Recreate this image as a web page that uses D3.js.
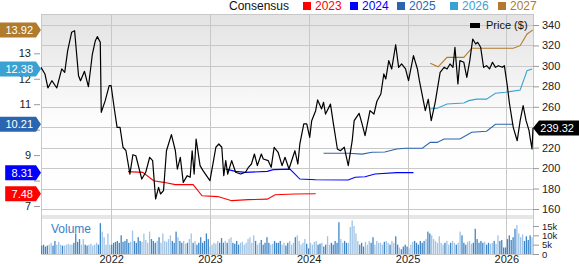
<!DOCTYPE html>
<html>
<head>
<meta charset="utf-8">
<script src="https://cdn.jsdelivr.net/npm/d3@7"></script>
<style>
  body { margin: 0; background: #fff; }
  svg { display: block; font-family: "Liberation Sans", Arial, sans-serif; }
</style>
</head>
<body>
<div id="chart"></div>
<script>
// price, [decimal year, $]
const priceData = [
  [2021.29,298.6],[2021.33,292.1],[2021.36,278.4],[2021.40,285.5],[2021.45,278.4],[2021.50,297.0],
  [2021.53,293.7],[2021.56,314.9],[2021.60,332.9],[2021.63,334.4],[2021.67,290.4],[2021.69,285.5],
  [2021.73,294.7],[2021.77,279.6],[2021.81,311.6],[2021.84,324.6],[2021.86,328.6],[2021.89,323.1],
  [2021.90,254.6],[2021.94,266.0],[2021.98,280.6],[2022.00,280.6],[2022.03,259.5],[2022.06,239.9],
  [2022.09,239.9],[2022.12,220.4],[2022.15,217.0],[2022.19,194.2],[2022.22,213.1],[2022.25,212.1],
  [2022.31,189.3],[2022.35,195.9],[2022.39,210.6],[2022.42,207.3],[2022.45,169.8],[2022.48,181.2],
  [2022.50,174.7],[2022.53,177.9],[2022.56,217.0],[2022.61,232.7],[2022.65,217.0],[2022.67,199.1],
  [2022.70,210.6],[2022.73,186.1],[2022.77,192.6],[2022.80,191.0],[2022.82,217.0],[2022.84,194.2],
  [2022.86,228.5],[2022.90,202.4],[2022.93,197.5],[2023.00,187.7],[2023.03,204.0],[2023.06,220.4],
  [2023.09,223.6],[2023.12,220.4],[2023.14,192.6],[2023.16,207.3],[2023.18,194.2],[2023.22,207.3],
  [2023.26,195.9],[2023.31,194.2],[2023.36,195.9],[2023.39,200.8],[2023.42,204.0],[2023.45,213.8],
  [2023.48,202.4],[2023.52,213.8],[2023.54,208.9],[2023.59,207.3],[2023.62,200.8],[2023.65,220.4],
  [2023.69,215.5],[2023.73,202.4],[2023.76,210.6],[2023.80,199.1],[2023.86,217.0],[2023.89,204.0],
  [2023.91,223.6],[2023.95,243.2],[2023.98,243.2],[2024.01,230.1],[2024.03,246.4],[2024.07,256.2],
  [2024.09,266.7],[2024.13,257.9],[2024.15,264.4],[2024.17,252.9],[2024.22,262.6],[2024.25,243.2],
  [2024.29,218.7],[2024.32,217.0],[2024.36,220.4],[2024.40,202.4],[2024.44,226.8],[2024.46,246.4],
  [2024.51,253.6],[2024.54,243.2],[2024.57,231.7],[2024.62,256.2],[2024.66,252.9],[2024.69,265.4],
  [2024.73,272.5],[2024.76,292.1],[2024.78,287.2],[2024.81,305.1],[2024.84,297.0],[2024.88,320.7],
  [2024.91,298.6],[2024.94,301.9],[2024.98,297.0],[2025.01,285.5],[2025.06,310.0],[2025.10,297.0],
  [2025.12,285.5],[2025.16,266.0],[2025.18,256.2],[2025.21,267.4],[2025.24,246.4],[2025.28,264.4],
  [2025.33,293.7],[2025.37,298.6],[2025.40,297.0],[2025.43,301.9],[2025.46,298.6],[2025.48,318.2],
  [2025.51,282.3],[2025.53,305.1],[2025.57,303.5],[2025.60,288.8],[2025.63,305.1],[2025.66,326.3],
  [2025.69,321.4],[2025.71,323.1],[2025.74,318.2],[2025.77,298.6],[2025.80,300.2],[2025.83,297.0],
  [2025.86,303.5],[2025.89,298.6],[2025.92,300.2],[2025.96,298.6],[2025.98,300.2],[2026.01,280.6],
  [2026.03,264.4],[2026.07,239.9],[2026.11,226.8],[2026.14,246.4],[2026.17,261.1],[2026.20,246.4],
  [2026.23,236.6],[2026.24,230.1],[2026.26,218.7],[2026.27,239.32]
]

// consensus EPS estimates, [decimal year, EPS]
const est2023 = [[2022.17,8.35],[2022.32,8.32],[2022.43,7.99],[2022.53,7.93],[2022.65,7.84],[2022.83,7.84],
  [2022.92,7.40],[2023.08,7.37],[2023.22,7.21],[2023.39,7.25],[2023.58,7.27],[2023.66,7.44],[2023.86,7.47],[2024.07,7.48]]
const est2024 = [[2023.16,8.45],[2023.26,8.36],[2023.36,8.32],[2023.58,8.36],[2023.64,8.43],[2023.81,8.45],
  [2023.91,8.06],[2024.07,8.03],[2024.40,8.02],[2024.47,8.13],[2024.57,8.15],[2024.67,8.26],[2024.89,8.31],[2025.06,8.31]]
const est2025 = [[2024.15,9.07],[2024.40,9.07],[2024.54,9.04],[2024.64,9.11],[2024.77,9.12],[2024.89,9.24],
  [2024.98,9.27],[2025.15,9.27],[2025.23,9.50],[2025.30,9.50],[2025.37,9.63],[2025.53,9.63],[2025.65,9.90],
  [2025.80,9.94],[2025.89,10.21],[2026.07,10.21]]
const est2026 = [[2025.23,10.81],[2025.30,10.84],[2025.40,11.01],[2025.57,11.05],[2025.62,11.14],[2025.70,11.20],
  [2025.80,11.20],[2025.89,11.43],[2025.99,11.47],[2026.14,11.56],[2026.21,12.32],[2026.26,12.38]]
const est2027 = [[2025.23,12.61],[2025.31,12.47],[2025.40,12.84],[2025.57,12.84],[2025.65,13.20],[2026.07,13.20],
  [2026.14,13.30],[2026.21,13.76],[2026.27,13.92]]

const estYears = ["2023", "2024", "2025", "2026", "2027"]
const estSeries = [est2023, est2024, est2025, est2026, est2027]
const estColors = ["#ff0000", "#0000ff", "#2a66b0", "#3aa2d2", "#b07b2d"]

// weekly volume (thousands), first week starts 2021.29
const volStart = 2021.29
const volumes = [
  4.5,5,4,4.5,5,6,4.5,7,5,6.5,5,4.5,4.5,5,5.5,5,5,6,11,6.5,8,5,8,5,4.5,5,5.5,4.5,5,6,5,16.5,12,9,5,11,5,
  5,6,6.5,7,6,10,6.5,7,8,6,6.5,12.5,7,6,9,7,6.5,11,7.5,6,12,8,7,6,7,9,6,11,7,6.5,8,10,7,6,12,9,7,6,7,5.5,6,8,11,6,7,5,6,9,6,7,11,8,
  4,5,6,5.5,7,6,8.5,6,7,6,8,9,6,5.5,7,5,6,6.5,5,6,8,9,6,10,7,5,6,7.5,5,6,9,6,5,5.5,7,6,6,7,5,6,4.5,6,7,5,6,9,10,7,5,6,8,5.5,
  3,6,5,6.5,7,5,5.5,6,4,5,9.5,5,6,5,7,6,17,8,6,7,6,6,14.5,18,15,11,7,5,6,4,6.5,5,7,6,9,5,7,6,6,5,6.5,7,6,5,7,6,9.5,5,3.5,2.5,4,5,
  4,3,5,6.5,7,6,5,7,6,7,8,12,11,10,8,7,6,9.5,6,5,6,7,5,6,7,6,5,6,12,10,6,5,6.5,7,5.5,6,13.5,8,6,7,6,6.5,5,6,5.5,6,7,5.5,10,7,7.5,3.5,
  3.5,8,10,7.5,9,13.5,15.5,11,9,10.5,7,9.5,7.5,10,9
]

const priceTicks = [160, 180, 200, 220, 240, 260, 280, 300, 320, 340]
const epsTicks = [7, 8, 9, 10, 11, 12, 13]
const volTicks = [0, 5, 10, 15]
const yearTicks = [2022, 2023, 2024, 2025, 2026]

const W = 579, H = 264
const plot = { left: 41, right: 533, top: 14, bottom: 210 }
const volPanel = { top: 219, bottom: 254 }

const svg = d3.select("#chart").append("svg")
  .attr("width", W).attr("height", H)

const x = d3.scaleLinear().domain([2021.29, 2026.27]).range([plot.left, plot.right])
const yPrice = d3.scaleLinear().domain([160, 340]).range([209, 25])
const yEps = d3.scaleLinear().domain([7, 13]).range([206, 53.3])
const yVol = d3.scaleLinear().domain([0, 15]).range([volPanel.bottom, 226])

// background gradient
const grad = svg.append("defs").append("linearGradient")
  .attr("id", "bg").attr("x1", 0).attr("y1", 0).attr("x2", 0).attr("y2", 1)
grad.append("stop").attr("offset", "0%").attr("stop-color", "#e3e3e3")
grad.append("stop").attr("offset", "55%").attr("stop-color", "#fdfdfd")
grad.append("stop").attr("offset", "100%").attr("stop-color", "#ffffff")

svg.append("rect")
  .attr("x", plot.left).attr("y", plot.top)
  .attr("width", plot.right - plot.left).attr("height", plot.bottom - plot.top)
  .attr("fill", "url(#bg)")

// separator band between price and volume panels
svg.append("rect")
  .attr("x", plot.left).attr("y", 215)
  .attr("width", plot.right - plot.left).attr("height", 4)
  .attr("fill", "#e6e6e6")

const grid = svg.append("g").attr("stroke", "#c8c8c8").attr("stroke-width", 1).attr("shape-rendering", "crispEdges")
priceTicks.forEach(t => {
  grid.append("line").attr("x1", plot.left).attr("x2", plot.right)
    .attr("y1", Math.round(yPrice(t)) + 0.5).attr("y2", Math.round(yPrice(t)) + 0.5)
})
grid.append("line").attr("x1", plot.left).attr("x2", plot.right).attr("y1", plot.top + 0.5).attr("y2", plot.top + 0.5)
yearTicks.forEach(t => {
  grid.append("line").attr("y1", plot.top).attr("y2", volPanel.bottom)
    .attr("x1", Math.round(x(t)) + 0.5).attr("x2", Math.round(x(t)) + 0.5)
})
grid.append("line").attr("y1", plot.top).attr("y2", volPanel.bottom).attr("x1", plot.left + 0.5).attr("x2", plot.left + 0.5)
grid.append("line").attr("y1", plot.top).attr("y2", volPanel.bottom).attr("x1", plot.right + 0.5).attr("x2", plot.right + 0.5)
grid.append("line").attr("x1", plot.left).attr("x2", plot.right).attr("y1", volPanel.bottom + 0.5).attr("y2", volPanel.bottom + 0.5)

// volume bars
const weekLen = 7 / 365.25
const priceAt = d3.scaleLinear().domain(priceData.map(d => d[0])).range(priceData.map(d => d[1])).clamp(true)
svg.append("g").selectAll("rect")
  .data(volumes)
  .enter().append("rect")
  .attr("x", (d, i) => x(volStart + i * weekLen))
  .attr("y", d => yVol(d))
  .attr("width", 1.3)
  .attr("height", d => yVol(0) - yVol(d))
  .attr("fill", (d, i) => {
    const t = volStart + i * weekLen
    return priceAt(t + weekLen) < priceAt(t) ? "#3f86c8" : "#9fc4e7"
  })

svg.append("text").attr("x", 51).attr("y", 233)
  .attr("font-size", 12).attr("fill", "#3a80c4").text("Volume")

// estimate lines
const lineEps = d3.line().x(d => x(d[0])).y(d => yEps(d[1]))
estSeries.forEach((s, i) => {
  svg.append("path").datum(s)
    .attr("fill", "none").attr("stroke", estColors[i]).attr("stroke-width", 1.1)
    .attr("d", lineEps)
})

// price line
const linePrice = d3.line().x(d => x(d[0])).y(d => yPrice(d[1]))
svg.append("path").datum(priceData)
  .attr("fill", "none").attr("stroke", "#000").attr("stroke-width", 1.2)
  .attr("stroke-linejoin", "round")
  .attr("d", linePrice)

const last = priceData[priceData.length - 1]
const lastEps = estSeries.map(s => s[s.length - 1][1])

// right axes (a label hidden under the price flag is left out)
const rightAxis = svg.append("g").attr("transform", `translate(${plot.right},0)`)
  .call(d3.axisRight(yPrice).tickValues(priceTicks).tickSize(6).tickPadding(3)
    .tickFormat(d => Math.abs(yPrice(d) - yPrice(last[1])) < 8 ? "" : d))
rightAxis.select(".domain").remove()
rightAxis.selectAll("line").attr("stroke", "#999")
rightAxis.selectAll("text").attr("font-size", 11).attr("fill", "#222").attr("font-family", null)

const volAxis = svg.append("g").attr("transform", `translate(${plot.right},0)`)
  .call(d3.axisRight(yVol).tickValues(volTicks).tickSize(6).tickPadding(3).tickFormat(d => d === 0 ? "0" : d + "k"))
volAxis.select(".domain").remove()
volAxis.selectAll("line").attr("stroke", "#999")
volAxis.selectAll("text").attr("font-size", 9.5).attr("fill", "#222").attr("font-family", null)

// left axis (labels hidden under the estimate flags are left out)
const leftAxis = svg.append("g").attr("transform", `translate(${plot.left - 1},0)`)
  .call(d3.axisLeft(yEps).tickValues(epsTicks).tickSize(6).tickPadding(3)
    .tickFormat(d => lastEps.some(v => Math.abs(yEps(d) - yEps(v)) < 9) ? "" : d3.format("d")(d)))
leftAxis.select(".domain").remove()
leftAxis.selectAll("line").attr("stroke", "#999")
leftAxis.selectAll("text").attr("font-size", 11).attr("fill", "#222").attr("font-family", null)

// year labels
const xAxis = svg.append("g").attr("transform", `translate(0,${volPanel.bottom})`)
  .call(d3.axisBottom(x).tickValues(yearTicks).tickSize(0).tickFormat(d3.format("d")))
xAxis.select(".domain").remove()
xAxis.selectAll("text").attr("y", 9).attr("dy", null)
  .attr("font-size", 11).attr("fill", "#222").attr("font-family", null)

// left flags with the latest estimate
estSeries.forEach((s, i) => {
  const v = lastEps[i]
  const cy = yEps(v)
  const label = v.toFixed(2)
  const w = label.length * 6.2 + 6
  const x1 = plot.left - 5, x0 = x1 - w
  svg.append("path")
    .attr("d", `M${x0},${cy - 7.5}H${x1}L${plot.left},${cy}L${x1},${cy + 7.5}H${x0}Z`)
    .attr("fill", estColors[i])
  svg.append("text").attr("x", x1 - 3).attr("y", cy + 4)
    .attr("text-anchor", "end").attr("font-size", 11).attr("fill", "#fff").text(label)
})

// right flag with the last price
const py = yPrice(last[1])
svg.append("path")
  .attr("d", `M${plot.right},${py}L${plot.right + 6},${py - 7.5}H${W}V${py + 7.5}H${plot.right + 6}Z`)
  .attr("fill", "#000")
svg.append("text").attr("x", 574).attr("y", py + 4)
  .attr("text-anchor", "end").attr("font-size", 11).attr("fill", "#fff").text(last[1].toFixed(2))

// consensus legend
const legend = svg.append("g")
legend.append("text").attr("x", 229).attr("y", 10).attr("font-size", 12).attr("fill", "#111").text("Consensus")
const legX = [303, 350, 397, 450, 498]
estYears.forEach((yr, i) => {
  legend.append("rect").attr("x", legX[i]).attr("y", 2).attr("width", 8).attr("height", 8).attr("fill", estColors[i])
  legend.append("text").attr("x", legX[i] + 12).attr("y", 10).attr("font-size", 12).attr("fill", estColors[i]).text(yr)
})

// price legend
svg.append("rect").attr("x", 470).attr("y", 23).attr("width", 10).attr("height", 5).attr("fill", "#000")
svg.append("text").attr("x", 486).attr("y", 29).attr("font-size", 11).attr("fill", "#111").text("Price ($)")
</script>
</body>
</html>
